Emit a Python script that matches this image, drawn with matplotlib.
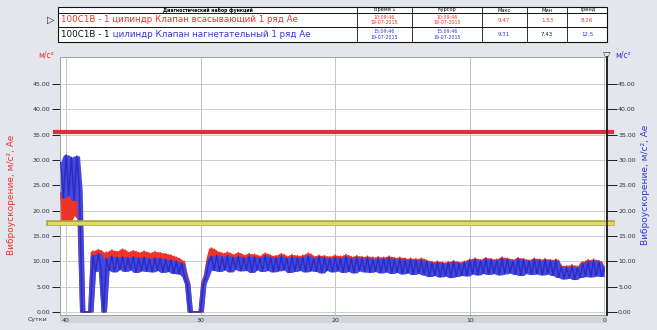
import numpy as np
import matplotlib.pyplot as plt

# sample times in days (read right to left: 40 days ago -> now), step 0.2 day
days = np.round(np.arange(40.4, -0.1, -0.2), 1)

# 100C1B - 1 cylinder, suction valve, row 1 (red)
red_vals = [
    23.5, 18.0, 24.5, 17.8, 22.8, 19.0, 24.0, 18.5, 0.0, 0.0,
    0.0, 0.0, 12.0, 9.0, 12.3, 9.2, 0.0, 11.8, 9.0, 12.2,
    8.8, 11.9, 9.3, 12.4, 8.9, 11.8, 9.1, 12.1, 8.7, 11.7,
    9.0, 12.0, 8.8, 11.6, 9.1, 11.9, 8.9, 11.7, 8.6, 11.5,
    8.9, 11.2, 8.4, 10.8, 8.2, 10.2, 7.6, 5.8, 0.0, 0.0,
    0.0, 0.0, 0.0, 6.0, 7.4, 10.6, 12.6, 8.8, 12.0, 8.6,
    11.6, 8.9, 11.8, 8.5, 11.3, 9.0, 11.7, 8.7, 11.2, 8.8,
    11.5, 8.4, 11.4, 8.9, 11.0, 8.6, 11.6, 8.8, 11.2, 8.5,
    11.1, 8.7, 11.5, 8.9, 11.0, 8.4, 11.3, 8.6, 11.1, 8.8,
    11.2, 8.5, 11.6, 8.7, 11.0, 8.6, 11.2, 8.3, 11.1, 8.8,
    10.9, 8.5, 11.2, 8.7, 11.0, 8.4, 11.3, 8.6, 10.9, 8.3,
    11.1, 8.7, 10.9, 8.5, 11.0, 8.4, 10.8, 8.6, 10.9, 8.3,
    10.8, 8.5, 11.0, 8.2, 10.7, 8.4, 10.8, 8.1, 10.6, 8.3,
    10.6, 8.0, 10.5, 8.2, 10.6, 7.9, 10.2, 7.6, 9.9, 7.8,
    10.0, 7.5, 9.8, 7.7, 9.9, 7.4, 10.1, 7.6, 9.8, 7.8,
    10.0, 7.7, 10.4, 8.1, 10.6, 7.9, 10.3, 8.2, 10.7, 8.0,
    10.5, 8.2, 10.4, 7.9, 10.8, 8.1, 10.6, 8.3, 10.3, 8.0,
    10.7, 7.8, 10.5, 8.2, 10.2, 8.0, 10.6, 8.1, 10.4, 7.9,
    10.5, 8.1, 10.3, 7.8, 10.4, 7.4, 9.2, 7.1, 9.1, 7.3,
    9.3, 7.0, 9.0, 7.4, 9.9, 7.6, 10.3, 7.5, 10.4, 7.7,
    10.1, 7.6, 8.9,
]

# 100C1B - 1 cylinder, discharge valve, row 1 (blue)
blue_vals = [
    29.5, 22.5, 31.0, 23.0, 30.5, 22.0, 30.8, 24.0, 0.0, 0.0,
    0.0, 0.0, 11.2, 8.0, 11.5, 8.5, 0.0, 10.6, 8.2, 11.0,
    7.9, 10.8, 8.4, 10.9, 8.0, 10.7, 8.3, 10.9, 7.8, 10.6,
    8.1, 10.8, 8.0, 10.5, 7.9, 10.7, 8.2, 10.6, 7.8, 10.4,
    8.0, 10.3, 7.6, 10.0, 7.5, 9.6, 7.0, 5.5, 0.0, 0.0,
    0.0, 0.0, 0.0, 5.5, 6.8, 9.8, 11.0, 8.2, 11.2, 8.0,
    10.9, 8.3, 11.1, 7.9, 10.8, 8.4, 11.0, 8.1, 10.7, 8.2,
    11.0, 7.8, 10.9, 8.3, 10.6, 8.0, 11.1, 8.2, 10.8, 7.9,
    10.7, 8.1, 11.0, 8.3, 10.6, 7.8, 10.9, 8.0, 10.7, 8.2,
    10.8, 7.9, 11.1, 8.1, 10.6, 8.0, 10.9, 7.7, 10.7, 8.2,
    10.5, 7.9, 10.8, 8.1, 10.6, 7.8, 10.9, 8.0, 10.5, 7.7,
    10.8, 8.1, 10.6, 7.9, 10.7, 7.8, 10.4, 8.0, 10.6, 7.7,
    10.5, 7.9, 10.7, 7.6, 10.4, 7.8, 10.5, 7.5, 10.3, 7.7,
    10.4, 7.4, 10.2, 7.6, 10.3, 7.3, 10.0, 7.0, 9.7, 7.2,
    9.8, 6.9, 9.6, 7.1, 9.7, 6.8, 9.9, 7.0, 9.6, 7.2,
    9.8, 7.1, 10.2, 7.5, 10.4, 7.3, 10.1, 7.6, 10.5, 7.4,
    10.3, 7.6, 10.2, 7.3, 10.6, 7.5, 10.4, 7.7, 10.1, 7.4,
    10.5, 7.2, 10.3, 7.6, 10.0, 7.4, 10.4, 7.5, 10.2, 7.3,
    10.3, 7.5, 10.1, 7.2, 10.2, 6.8, 8.9, 6.5, 8.8, 6.7,
    9.0, 6.4, 8.7, 6.8, 9.6, 7.0, 10.0, 6.9, 10.2, 7.1,
    9.9, 7.0, 8.6,
]

alarm_level = 35.5
warn_level = 17.5

y_ticks = [0, 5, 10, 15, 20, 25, 30, 35, 40, 45]
x_ticks = [40, 30, 20, 10, 0]

# header table rows
row_names = ["100C1B - 1 цилиндр Клапан всасывающий 1 ряд Ae",
             "100C1B - 1 цилиндр Клапан нагнетательный 1 ряд Ae"]
row_time = ["10:09:46\n19-07-2015", "15:09:46\n19-07-2015"]
row_cursor = ["10:09:46\n19-07-2015", "15:09:46\n19-07-2015"]
row_max = ["9.47", "9.31"]
row_min = ["1.53", "7.43"]
row_trend = ["8.26", "12.5"]
col_heads = ["Время 1", "Курсор", "Макс", "Мин", "Тренд"]

RED = "#ee3328"
BLUE = "#3438d6"


def envelope(vals):
    # min/max over neighbouring samples, so the dense trace reads as a band
    v = np.asarray(vals)
    p = np.pad(v, 1, mode="edge")
    lo = np.minimum(np.minimum(p[:-2], p[1:-1]), p[2:])
    hi = np.maximum(np.maximum(p[:-2], p[1:-1]), p[2:])
    return lo, hi


fig = plt.figure(figsize=(6.57, 3.30), dpi=100, facecolor="#e4e6ee")

# overlay in pixel coords for table and decorations
ov = fig.add_axes([0, 0, 1, 1], zorder=-1)
ov.set_xlim(0, 657)
ov.set_ylim(330, 0)
ov.axis("off")

ax = fig.add_axes([60/657, 15/330, 547/657, 258/330])
ax.set_facecolor("white")
r_lo, r_hi = envelope(red_vals)
b_lo, b_hi = envelope(blue_vals)
ax.fill_between(days, r_lo, r_hi, color=RED, lw=0, zorder=2)
ax.plot(days, red_vals, color=RED, lw=1.2, zorder=3)
ax.fill_between(days, b_lo, b_hi, color="#4448e0", lw=0, zorder=3.5)
ax.plot(days, blue_vals, color="#2a2cc0", lw=1.0, zorder=4)
ax.axhline(alarm_level, xmin=-0.01, xmax=1.01, color="#dc2f3d", lw=3, clip_on=False, zorder=5)
ax.axhline(warn_level, xmin=-0.02, xmax=1.01, color="#a9a23a", lw=4, clip_on=False, zorder=5)
ax.axhline(warn_level, xmin=-0.02, xmax=1.01, color="#e0d968", lw=2.4, clip_on=False, zorder=6)

ax.set_xlim(40.45, -0.2)
ax.set_ylim(-0.6, 50.3)
ax.set_yticks(y_ticks)
ax.set_yticklabels(["%.2f" % v for v in y_ticks], fontsize=4.5, color="#333333")
ax.set_xticks(x_ticks)
ax.set_xticklabels([str(v) for v in x_ticks], fontsize=4.5, color="#333333")
ax.tick_params(axis="y", length=6, width=0.6, pad=1)
ax.tick_params(axis="x", length=0, pad=2)
ax.grid(axis="y", color="#cdcdcd", lw=0.7)
ax.grid(axis="x", color="#c4c4c4", lw=0.7)
for s in ["left", "top", "bottom"]:
    ax.spines[s].set_color("#a0a0a0")
    ax.spines[s].set_linewidth(0.7)
ax.spines["right"].set_color("#222222")
ax.spines["right"].set_linewidth(1.2)

ax2 = ax.twinx()
ax2.set_ylim(ax.get_ylim())
ax2.set_yticks(y_ticks)
ax2.set_yticklabels(["%.2f" % v for v in y_ticks], fontsize=4.5, color="#333333")
ax2.tick_params(axis="y", length=7, width=0.6, pad=1)
ax2.spines["right"].set_color("#222222")
ax2.spines["right"].set_linewidth(1.2)
for s in ["left", "top", "bottom"]:
    ax2.spines[s].set_visible(False)

# scroll strip under the plot
ov.add_patch(plt.Rectangle((60, 315), 547, 8, facecolor="#d3d5dd", edgecolor="none"))
ov.text(28, 320, "Сутки", fontsize=4.5, color="#333333", va="center")

# axis titles
fig.text(12/657, 1 - 195/330, "Виброускорение, м/с², Ae", rotation=90, color=RED,
         fontsize=6.5, ha="center", va="center")
fig.text(645/657, 1 - 185/330, "Виброускорение, м/с², Ae", rotation=90, color=BLUE,
         fontsize=6.5, ha="center", va="center")
ov.text(38, 55, "м/с²", color=RED, fontsize=5.5, va="center")
ov.text(607, 56, "▽", color="#333333", fontsize=7, ha="center", va="center")
ov.text(615, 55, "м/с²", color=BLUE, fontsize=5.5, va="center")

# header table
cols = [58, 357, 412, 482, 527, 567, 607]
rows = [7, 13, 27, 42]
ov.add_patch(plt.Rectangle((58, 7), 549, 35, facecolor="white", edgecolor="#111111", lw=0.8))
for yy in rows[1:3]:
    ov.plot([58, 607], [yy, yy], color="#111111", lw=0.7)
for xx in cols[1:-1]:
    ov.plot([xx, xx], [7, 42], color="#111111", lw=0.6)
ov.text(208, 10, "Диагностический набор функций", fontsize=3.3, ha="center", va="center",
        fontweight="bold")
for k, h in enumerate(col_heads):
    ov.text((cols[k + 1] + cols[k + 2]) / 2, 10, h, fontsize=3.6, ha="center", va="center")

ov.text(51, 20, "▷", fontsize=7, ha="center", va="center", color="#222222")
ov.text(61, 20, row_names[0], fontsize=6.3, color=RED, va="center")
t1 = ov.text(61, 34.5, row_names[1][:10], fontsize=6.3, color="#111111", va="center")
ov.annotate(row_names[1][10:], xy=(1, 0.5), xycoords=t1, fontsize=6.3, color=BLUE,
            va="center", ha="left")

row_colors = [RED, BLUE]
for r, yc in enumerate([20, 34.5]):
    c = row_colors[r]
    ov.text(384, yc, row_time[r], fontsize=3.4, color=c, ha="center", va="center", linespacing=1.1)
    ov.text(447, yc, row_cursor[r], fontsize=3.4, color=c, ha="center", va="center", linespacing=1.1)
    ov.text(504, yc, row_max[r], fontsize=4, color=c, ha="center", va="center")
    ov.text(547, yc, row_min[r], fontsize=4, color=c if r == 0 else "#222222", ha="center", va="center")
    ov.text(587, yc, row_trend[r], fontsize=4, color=c, ha="center", va="center")

fig.savefig("out.png", dpi=100, facecolor=fig.get_facecolor())
